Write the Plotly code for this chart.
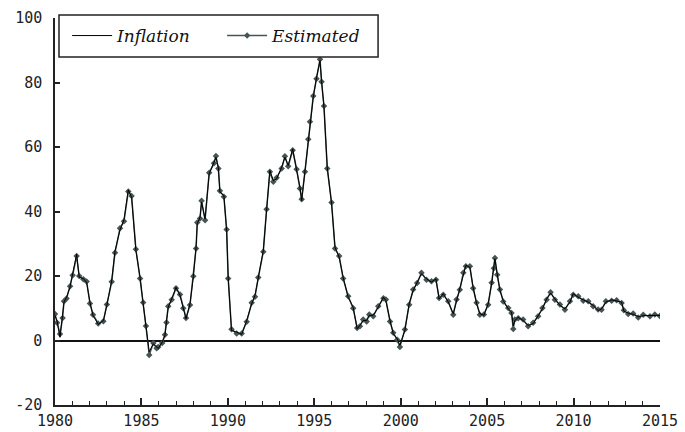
import plotly.graph_objects as go

# ---- data (decimal years) ----
years = [
    1980.00, 1980.12, 1980.29, 1980.44, 1980.52, 1980.67, 1980.87, 1981.02, 1981.25, 1981.40,
    1981.64, 1981.83, 1982.02, 1982.20, 1982.50, 1982.80, 1983.00, 1983.28, 1983.47, 1983.76,
    1983.99, 1984.24, 1984.43, 1984.68, 1984.92, 1985.10, 1985.26, 1985.45, 1985.69, 1985.88,
    1985.97, 1986.20, 1986.36, 1986.45, 1986.55, 1986.75, 1987.00, 1987.23, 1987.42, 1987.58,
    1987.81, 1988.00, 1988.16, 1988.23, 1988.39, 1988.48, 1988.68, 1988.92, 1989.20, 1989.31,
    1989.45, 1989.54, 1989.77, 1989.93, 1990.02, 1990.21, 1990.51, 1990.80, 1991.09, 1991.38,
    1991.57, 1991.76, 1992.05, 1992.24, 1992.43, 1992.63, 1992.82, 1993.11, 1993.30, 1993.49,
    1993.75, 1993.98, 1994.17, 1994.27, 1994.46, 1994.65, 1994.75, 1994.94, 1995.13, 1995.33,
    1995.42, 1995.56, 1995.75, 1996.00, 1996.20, 1996.44, 1996.67, 1996.96, 1997.25, 1997.48,
    1997.64, 1997.83, 1998.03, 1998.18, 1998.41, 1998.70, 1999.00, 1999.14, 1999.38, 1999.57,
    1999.80, 1999.95, 2000.24, 2000.49, 2000.72, 2000.95, 2001.20, 2001.49, 2001.78, 2002.04,
    2002.22, 2002.46, 2002.75, 2003.04, 2003.23, 2003.42, 2003.62, 2003.77, 2004.00, 2004.19,
    2004.39, 2004.58, 2004.81, 2005.06, 2005.26, 2005.39, 2005.45, 2005.58, 2005.74, 2005.93,
    2006.22, 2006.41, 2006.51, 2006.60, 2006.80, 2007.08, 2007.37, 2007.66, 2007.95, 2008.20,
    2008.44, 2008.67, 2008.92, 2009.21, 2009.50, 2009.79, 2009.98, 2010.27, 2010.56, 2010.85,
    2011.13, 2011.42, 2011.62, 2011.87, 2012.20, 2012.49, 2012.78, 2012.91, 2013.16, 2013.45,
    2013.74, 2014.03, 2014.42, 2014.70, 2014.99,
]

inflation = [
    7.8, 6.0, 1.0, 7.2, 11.9, 13.4, 16.5, 20.7, 26.7, 19.6,
    19.2, 18.0, 11.9, 7.8, 5.0, 6.2, 10.9, 18.6, 27.7, 34.3,
    37.4, 46.7, 44.4, 27.9, 19.6, 11.4, 4.1, -3.5, -1.0, -2.0,
    -2.5, -0.5, 1.5, 6.0, 10.3, 12.9, 16.5, 14.0, 10.3, 6.7,
    11.4, 19.6, 28.9, 36.2, 38.2, 42.9, 37.7, 51.7, 55.3, 56.8,
    53.7, 46.0, 45.0, 34.0, 19.6, 3.1, 2.6, 1.9, 6.2, 11.4,
    14.0, 19.1, 27.9, 40.3, 52.7, 49.6, 50.1, 53.7, 56.8, 54.3,
    59.4, 52.7, 47.5, 43.4, 52.7, 62.0, 68.2, 75.4, 81.6, 86.8,
    80.6, 72.3, 53.7, 42.4, 28.9, 25.8, 19.6, 13.4, 10.3, 3.6,
    4.7, 6.2, 6.2, 7.8, 7.8, 10.3, 13.4, 12.4, 6.2, 2.1,
    0.5, -1.5, 3.1, 11.4, 15.5, 18.1, 20.7, 19.1, 18.1, 19.1,
    12.9, 14.5, 11.9, 8.3, 12.4, 16.0, 20.7, 23.3, 22.7, 16.5,
    11.4, 8.3, 7.8, 11.4, 17.6, 22.7, 25.3, 20.7, 15.5, 12.4,
    9.8, 8.8, 4.5, 6.2, 7.2, 6.2, 4.7, 5.2, 7.8, 9.8,
    12.9, 14.7, 12.9, 10.9, 9.8, 11.9, 14.5, 13.4, 12.6, 11.9,
    10.9, 9.3, 9.8, 11.9, 12.6, 12.2, 11.9, 9.1, 8.5, 8.1,
    7.4, 7.7, 7.8, 7.8, 7.8,
]

estimated = [
    8.2, 5.5, 2.0, 7.0, 12.2, 13.0, 16.8, 20.2, 26.2, 20.0,
    19.0, 18.3, 11.5, 8.0, 5.3, 6.0, 11.2, 18.2, 27.2, 34.8,
    37.0, 46.2, 44.8, 28.3, 19.2, 11.8, 4.5, -4.5, -0.8, -2.4,
    -2.0, -0.8, 1.8, 5.6, 10.6, 12.6, 16.2, 14.3, 10.0, 7.0,
    11.0, 19.9, 28.5, 36.6, 37.8, 43.3, 37.3, 52.0, 55.0, 57.2,
    53.3, 46.4, 44.6, 34.4, 19.2, 3.5, 2.2, 2.2, 5.8, 11.7,
    13.6, 19.5, 27.5, 40.7, 52.3, 49.2, 50.5, 53.3, 57.1, 54.0,
    59.0, 53.1, 47.1, 43.8, 52.3, 62.4, 67.8, 75.8, 81.2, 87.2,
    80.2, 72.7, 53.3, 42.8, 28.5, 26.2, 19.2, 13.7, 10.0, 3.9,
    4.4, 6.5, 5.9, 8.1, 7.5, 10.6, 13.1, 12.7, 5.9, 2.4,
    0.2, -2.0, 3.4, 11.1, 15.8, 17.8, 21.0, 18.8, 18.4, 18.8,
    13.2, 14.2, 12.2, 8.0, 12.7, 15.7, 21.0, 23.0, 23.0, 16.2,
    11.7, 8.0, 8.1, 11.1, 17.9, 22.4, 25.6, 20.4, 15.8, 12.1,
    10.1, 8.5, 3.6, 6.5, 6.9, 6.5, 4.4, 5.5, 7.5, 10.1,
    12.6, 15.0, 12.6, 11.2, 9.5, 12.2, 14.2, 13.7, 12.3, 12.2,
    10.6, 9.6, 9.5, 12.2, 12.3, 12.5, 11.6, 9.4, 8.2, 8.4,
    7.1, 8.0, 7.5, 8.1, 7.6,
]

x_tick_vals = [1980, 1985, 1990, 1995, 2000, 2005, 2010, 2015]
x_tick_labels = ["1980", "1985", "1990", "1995", "2000", "2005", "2010", "2015"]
y_tick_vals = [-20, 0, 20, 40, 60, 80, 100]
y_tick_labels = ["-20", "0", "20", "40", "60", "80", "100"]

tick_font = dict(family="DejaVu Sans Mono", size=15, color="#222222")
axis_col = "#222222"

fig = go.Figure()

fig.add_trace(go.Scatter(
    x=years, y=estimated, name="Estimated", mode="lines+markers",
    line=dict(color="#465454", width=1.5),
    marker=dict(symbol="diamond", size=5, color="#465454"),
    legendrank=2,
))
fig.add_trace(go.Scatter(
    x=years, y=inflation, name="Inflation", mode="lines",
    line=dict(color="#000000", width=1),
    legendrank=1,
))

# legend box (paper coordinates)
fig.add_shape(type="rect", xref="paper", yref="paper",
              x0=0.0066, x1=0.534, y0=0.899, y1=1.008,
              line=dict(color="#222222", width=1.5), fillcolor="white", layer="above")

fig.update_layout(
    width=685, height=432, autosize=False,
    margin=dict(l=55, r=25, t=18, b=27, pad=0),
    paper_bgcolor="white", plot_bgcolor="white",
    showlegend=True,
    legend=dict(
        orientation="h", x=0.02, y=1.0, xanchor="left", yanchor="top",
        bgcolor="rgba(0,0,0,0)", borderwidth=0,
        font=dict(family="DejaVu Serif", size=17, style="italic", color="#111111"),
        itemwidth=40, entrywidth=100, entrywidthmode="pixels",
        traceorder="normal",
    ),
    xaxis=dict(
        range=[1980, 2015], tickmode="array", tickvals=x_tick_vals, ticktext=x_tick_labels,
        ticks="inside", ticklen=7, tickwidth=1.5, tickcolor=axis_col,
        showline=True, linecolor=axis_col, linewidth=1.5, mirror=False,
        showgrid=False, zeroline=False, tickfont=tick_font, ticklabelstandoff=1,
        automargin=False,
        minor=dict(dtick=1, tick0=1980, ticks="inside", ticklen=4, tickwidth=1,
                   tickcolor=axis_col, showgrid=False),
    ),
    yaxis=dict(
        range=[-20, 100], tickmode="array", tickvals=y_tick_vals, ticktext=y_tick_labels,
        ticks="inside", ticklen=5, tickwidth=1.5, tickcolor=axis_col,
        showline=True, linecolor=axis_col, linewidth=1.5, mirror=False,
        showgrid=False, zeroline=True, zerolinecolor="#111111", zerolinewidth=1.5,
        tickfont=tick_font, ticklabelstandoff=8, automargin=False,
    ),
)

fig.write_html("out.html")
